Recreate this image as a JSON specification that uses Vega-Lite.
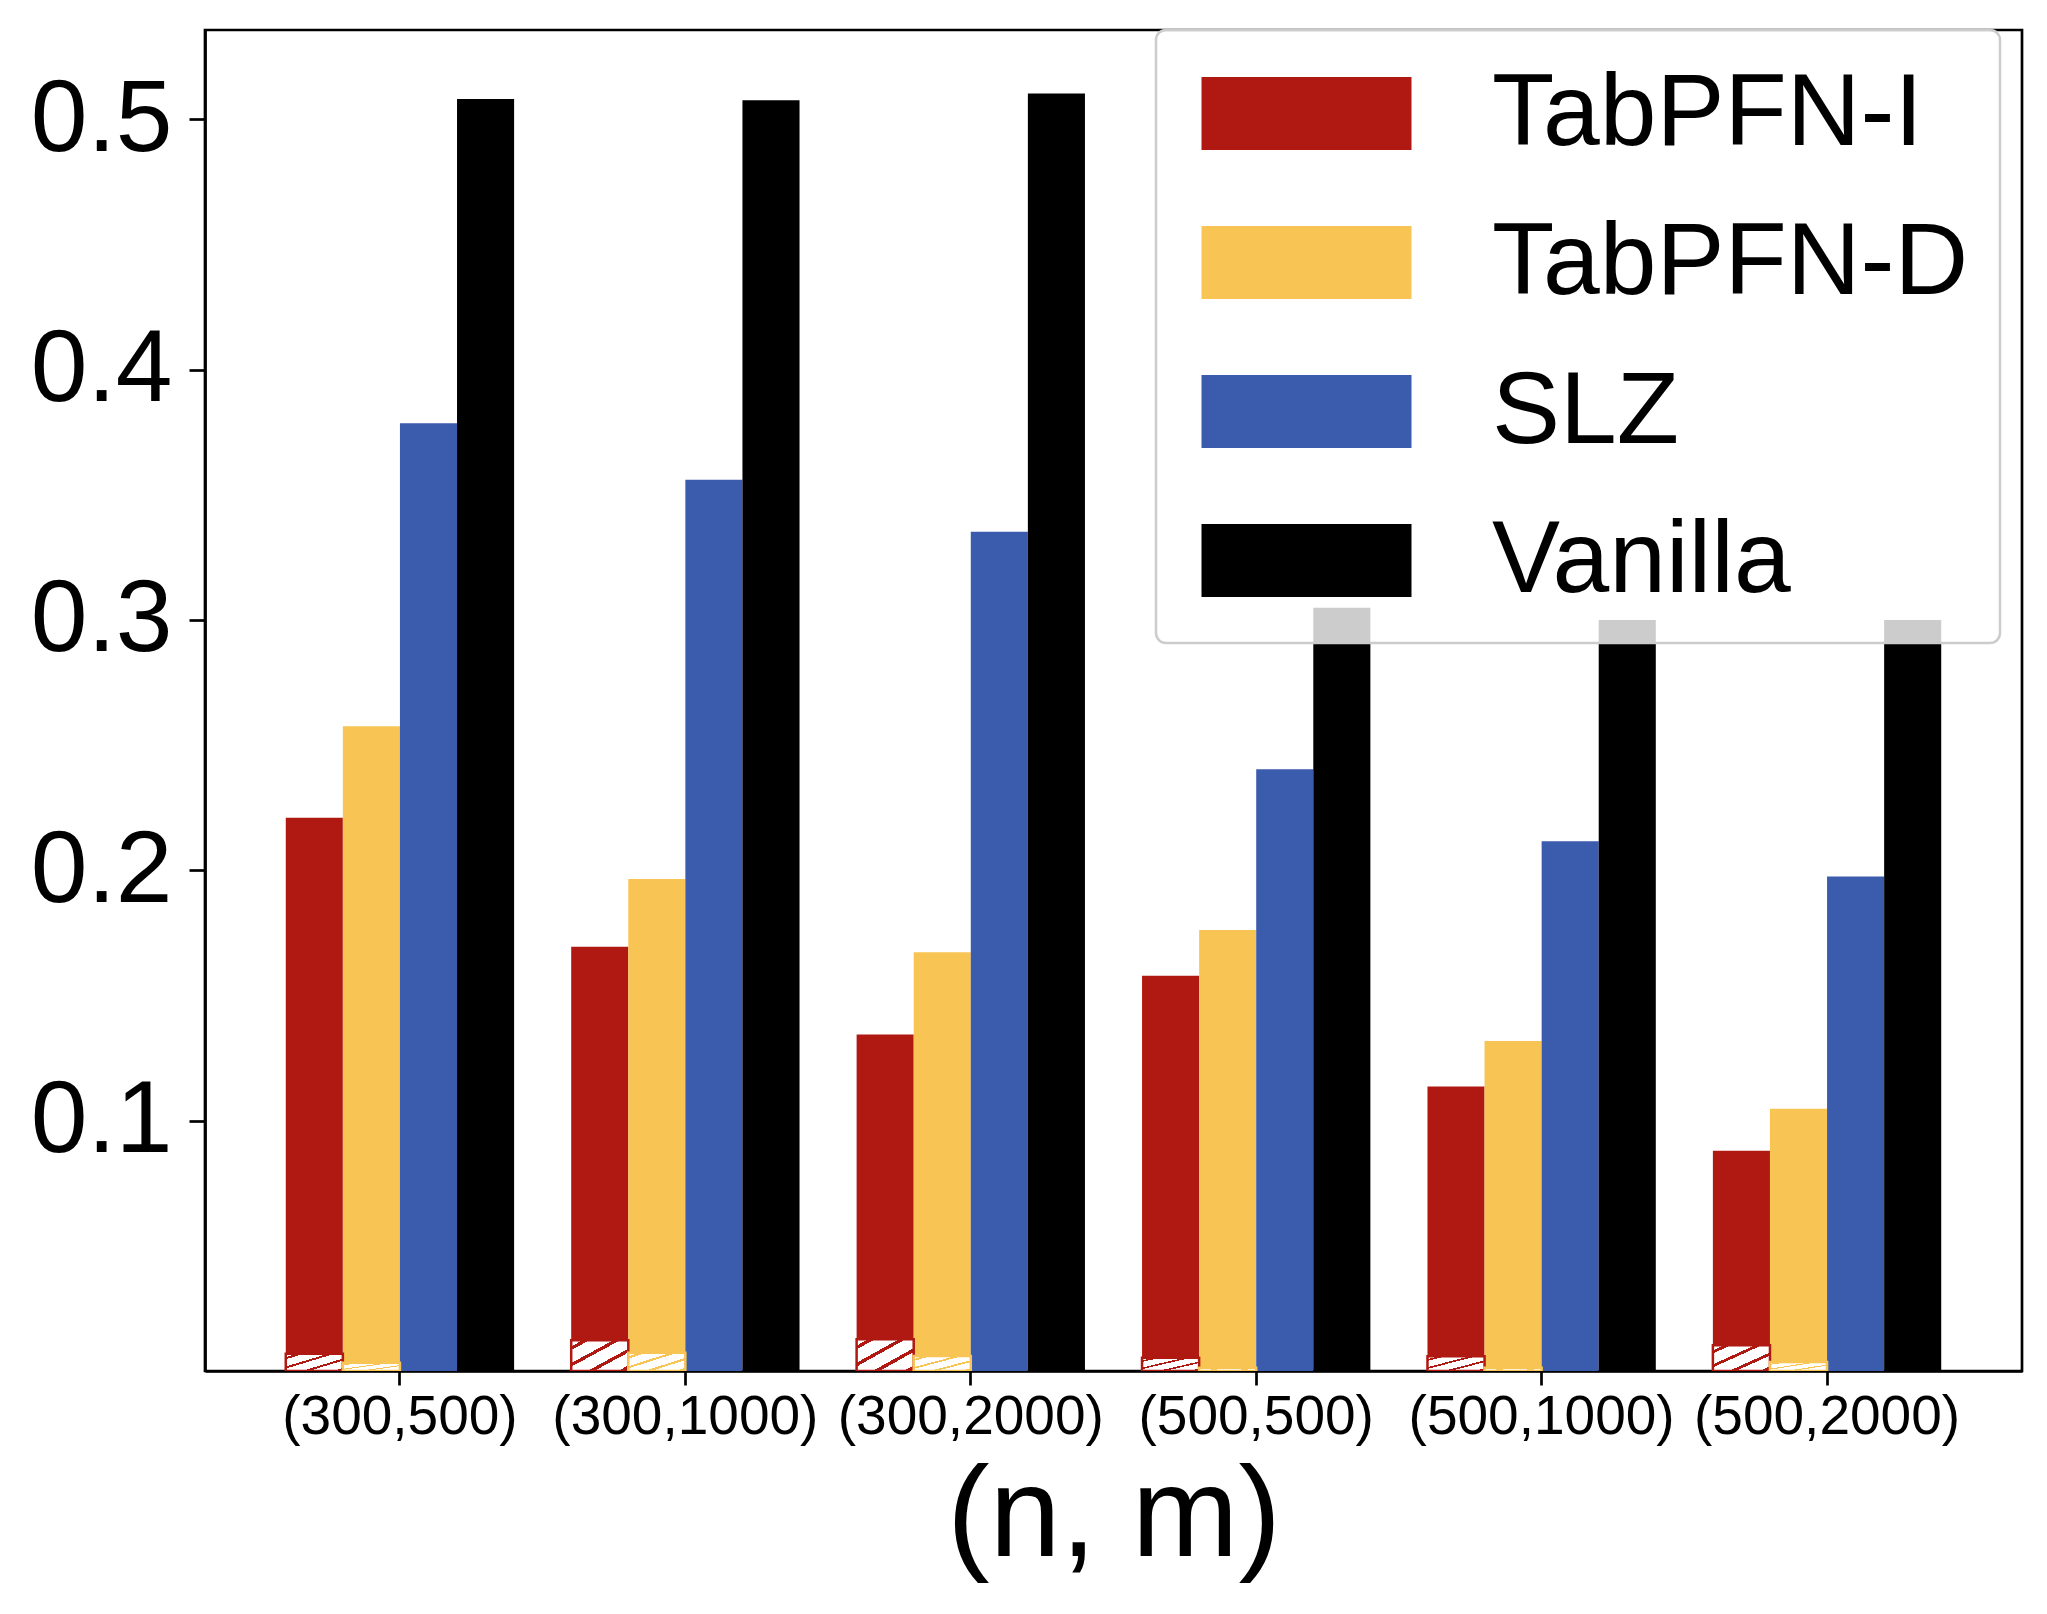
{
  "$schema": "https://vega.github.io/schema/vega-lite/v6.json",
  "description": "Grouped bars per (n, m) setting for four methods, with small hatched bars at the base.",
  "autosize": {"type": "none"},
  "padding": {"left": 205, "top": 30, "right": 25, "bottom": 243},
  "width": 1817,
  "height": 1341,
  "background": "white",
  "datasets": {
    "main": [
      {"setting": "(300,500)", "method": "TabPFN-I", "value": 0.221},
      {"setting": "(300,500)", "method": "TabPFN-D", "value": 0.2575},
      {"setting": "(300,500)", "method": "SLZ", "value": 0.3785},
      {"setting": "(300,500)", "method": "Vanilla", "value": 0.508},
      {"setting": "(300,1000)", "method": "TabPFN-I", "value": 0.1694},
      {"setting": "(300,1000)", "method": "TabPFN-D", "value": 0.1965},
      {"setting": "(300,1000)", "method": "SLZ", "value": 0.356},
      {"setting": "(300,1000)", "method": "Vanilla", "value": 0.5075},
      {"setting": "(300,2000)", "method": "TabPFN-I", "value": 0.1344},
      {"setting": "(300,2000)", "method": "TabPFN-D", "value": 0.1673},
      {"setting": "(300,2000)", "method": "SLZ", "value": 0.3352},
      {"setting": "(300,2000)", "method": "Vanilla", "value": 0.5102},
      {"setting": "(500,500)", "method": "TabPFN-I", "value": 0.1579},
      {"setting": "(500,500)", "method": "TabPFN-D", "value": 0.1761},
      {"setting": "(500,500)", "method": "SLZ", "value": 0.2403},
      {"setting": "(500,500)", "method": "Vanilla", "value": 0.3048},
      {"setting": "(500,1000)", "method": "TabPFN-I", "value": 0.1136},
      {"setting": "(500,1000)", "method": "TabPFN-D", "value": 0.1318},
      {"setting": "(500,1000)", "method": "SLZ", "value": 0.2116},
      {"setting": "(500,1000)", "method": "Vanilla", "value": 0.3},
      {"setting": "(500,2000)", "method": "TabPFN-I", "value": 0.088},
      {"setting": "(500,2000)", "method": "TabPFN-D", "value": 0.1047},
      {"setting": "(500,2000)", "method": "SLZ", "value": 0.1975},
      {"setting": "(500,2000)", "method": "Vanilla", "value": 0.3}
    ],
    "hatch": [
      {"setting": "(300,500)", "method": "TabPFN-I", "value": 0.0069},
      {"setting": "(300,500)", "method": "TabPFN-D", "value": 0.0033},
      {"setting": "(300,1000)", "method": "TabPFN-I", "value": 0.0123},
      {"setting": "(300,1000)", "method": "TabPFN-D", "value": 0.0073},
      {"setting": "(300,2000)", "method": "TabPFN-I", "value": 0.0127},
      {"setting": "(300,2000)", "method": "TabPFN-D", "value": 0.006},
      {"setting": "(500,500)", "method": "TabPFN-I", "value": 0.0053},
      {"setting": "(500,500)", "method": "TabPFN-D", "value": 0.0013},
      {"setting": "(500,1000)", "method": "TabPFN-I", "value": 0.0059},
      {"setting": "(500,1000)", "method": "TabPFN-D", "value": 0.0013},
      {"setting": "(500,2000)", "method": "TabPFN-I", "value": 0.0103},
      {"setting": "(500,2000)", "method": "TabPFN-D", "value": 0.0036}
    ]
  },
  "encoding": {
    "x": {
      "field": "setting",
      "type": "nominal",
      "sort": null,
      "scale": {"paddingInner": 0.2, "paddingOuter": 0.283},
      "axis": {
        "title": "(n, m)",
        "labelAngle": 0,
        "labelFontSize": 55,
        "labelLimit": 0,
        "labelPadding": 5,
        "tickSize": 14,
        "titleFontSize": 128,
        "titleFontWeight": "normal",
        "titlePadding": 10
      }
    },
    "xOffset": {
      "field": "method",
      "type": "nominal",
      "scale": {"domain": ["TabPFN-I", "TabPFN-D", "SLZ", "Vanilla"], "paddingInner": 0, "paddingOuter": 0}
    },
    "y": {
      "field": "value",
      "type": "quantitative",
      "scale": {"domain": [0, 0.5356], "nice": false, "zero": false},
      "axis": {
        "title": null,
        "values": [0.1, 0.2, 0.3, 0.4, 0.5],
        "format": ".1f",
        "labelFontSize": 102,
        "labelPadding": 17,
        "tickSize": 16
      }
    }
  },
  "layer": [
    {
      "data": {"name": "main"},
      "mark": {"type": "bar", "clip": true},
      "encoding": {
        "color": {
          "field": "method",
          "type": "nominal",
          "scale": {
            "domain": ["TabPFN-I", "TabPFN-D", "SLZ", "Vanilla"],
            "range": ["#B01912", "#F8C454", "#3B5BAD", "#000000"]
          },
          "legend": {
            "title": null,
            "orient": "none",
            "legendX": 951,
            "legendY": 0,
            "padding": 31,
            "symbolOffset": 67,
            "symbolType": "M-2,-0.6952L2,-0.6952L2,0.6952L-2,0.6952Z",
            "symbolSize": 11025,
            "symbolStrokeWidth": 0,
            "symbolOpacity": 1,
            "labelFontSize": 102,
            "labelLimit": 0,
            "labelOffset": 133,
            "labelColor": "black",
            "rowPadding": 45,
            "fillColor": "rgba(255,255,255,0.8)",
            "strokeColor": "#cccccc",
            "cornerRadius": 10,
            "encode": {
              "legend": {"update": {"strokeWidth": {"value": 2.5}}}
            }
          }
        }
      }
    },
    {
      "data": {"name": "hatch"},
      "transform": [{"filter": "datum.method == 'TabPFN-I'"}],
      "mark": {
        "type": "bar",
        "clip": true,
        "stroke": "#B01912",
        "strokeWidth": 2.5,
        "fill": {
          "gradient": "linear",
          "x1": 0, "y1": 0, "x2": 1, "y2": 1,
          "stops": [
            {"offset": 0, "color": "white"},
            {"offset": 0.1, "color": "white"},
            {"offset": 0.1, "color": "#B01912"},
            {"offset": 0.16, "color": "#B01912"},
            {"offset": 0.16, "color": "white"},
            {"offset": 0.37, "color": "white"},
            {"offset": 0.37, "color": "#B01912"},
            {"offset": 0.43, "color": "#B01912"},
            {"offset": 0.43, "color": "white"},
            {"offset": 0.64, "color": "white"},
            {"offset": 0.64, "color": "#B01912"},
            {"offset": 0.7, "color": "#B01912"},
            {"offset": 0.7, "color": "white"},
            {"offset": 0.91, "color": "white"},
            {"offset": 0.91, "color": "#B01912"},
            {"offset": 0.97, "color": "#B01912"},
            {"offset": 0.97, "color": "white"},
            {"offset": 1, "color": "white"}
          ]
        }
      }
    },
    {
      "data": {"name": "hatch"},
      "transform": [{"filter": "datum.method == 'TabPFN-D'"}],
      "mark": {
        "type": "bar",
        "clip": true,
        "stroke": "#F8C454",
        "strokeWidth": 2.5,
        "fill": {
          "gradient": "linear",
          "x1": 0, "y1": 0, "x2": 1, "y2": 1,
          "stops": [
            {"offset": 0, "color": "white"},
            {"offset": 0.1, "color": "white"},
            {"offset": 0.1, "color": "#F8C454"},
            {"offset": 0.16, "color": "#F8C454"},
            {"offset": 0.16, "color": "white"},
            {"offset": 0.37, "color": "white"},
            {"offset": 0.37, "color": "#F8C454"},
            {"offset": 0.43, "color": "#F8C454"},
            {"offset": 0.43, "color": "white"},
            {"offset": 0.64, "color": "white"},
            {"offset": 0.64, "color": "#F8C454"},
            {"offset": 0.7, "color": "#F8C454"},
            {"offset": 0.7, "color": "white"},
            {"offset": 0.91, "color": "white"},
            {"offset": 0.91, "color": "#F8C454"},
            {"offset": 0.97, "color": "#F8C454"},
            {"offset": 0.97, "color": "white"},
            {"offset": 1, "color": "white"}
          ]
        }
      }
    }
  ],
  "config": {
    "font": "Liberation Sans",
    "view": {"stroke": "black", "strokeWidth": 2.7},
    "axis": {
      "grid": false,
      "domainColor": "black",
      "domainWidth": 2.7,
      "tickColor": "black",
      "tickWidth": 2.7,
      "labelColor": "black",
      "titleColor": "black"
    },
    "legend": {"labelFont": "Liberation Sans"}
  }
}
